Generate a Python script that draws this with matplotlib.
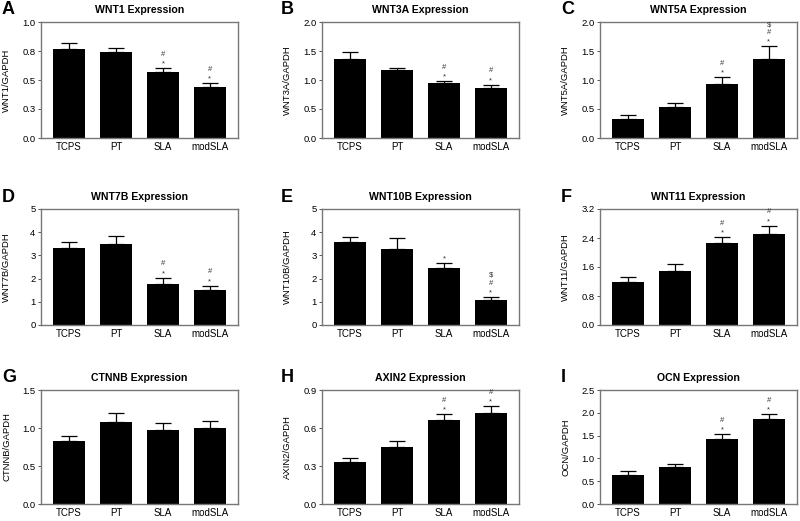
import numpy as np
import matplotlib
matplotlib.use("Agg")
import matplotlib.pyplot as plt

plt.rcParams['font.family'] = ['Liberation Sans', 'DejaVu Sans']

groups = ["TCPS", "PT", "SLA", "modSLA"]

genes = ["WNT1", "WNT3A", "WNT5A", "WNT7B", "WNT10B", "WNT11", "CTNNB", "AXIN2", "OCN"]
letters = ["A", "B", "C", "D", "E", "F", "G", "H", "I"]

wnt1 = [0.77, 0.74, 0.57, 0.44]
wnt1_err = [0.05, 0.04, 0.03, 0.03]
wnt3a = [1.36, 1.17, 0.94, 0.87]
wnt3a_err = [0.13, 0.03, 0.04, 0.05]
wnt5a = [0.32, 0.53, 0.93, 1.37]
wnt5a_err = [0.08, 0.08, 0.115, 0.21]
wnt7b = [3.34, 3.51, 1.77, 1.51]
wnt7b_err = [0.25, 0.32, 0.26, 0.17]
wnt10b = [3.59, 3.27, 2.46, 1.08]
wnt10b_err = [0.20, 0.46, 0.20, 0.12]
wnt11 = [1.20, 1.50, 2.25, 2.50]
wnt11_err = [0.13, 0.19, 0.17, 0.23]
ctnnb = [0.83, 1.08, 0.98, 1.00]
ctnnb_err = [0.06, 0.12, 0.08, 0.09]
axin2 = [0.33, 0.45, 0.66, 0.72]
axin2_err = [0.03, 0.05, 0.05, 0.05]
ocn = [0.64, 0.82, 1.42, 1.87]
ocn_err = [0.09, 0.05, 0.11, 0.10]

values = [wnt1, wnt3a, wnt5a, wnt7b, wnt10b, wnt11, ctnnb, axin2, ocn]
errors = [wnt1_err, wnt3a_err, wnt5a_err, wnt7b_err, wnt10b_err, wnt11_err,
          ctnnb_err, axin2_err, ocn_err]

# significance marks per bar, bottom to top
sig_ab = [[], [], ["*", "#"], ["*", "#"]]
sig_c = [[], [], ["*", "#"], ["*", "#", "$"]]
sig_e = [[], [], ["*"], ["*", "#", "$"]]
signif = [sig_ab, sig_ab, sig_c, sig_ab, sig_e, sig_ab, [[], [], [], []], sig_ab, sig_ab]

yticks = [
    [0, 0.25, 0.5, 0.75, 1.0],
    [0, 0.5, 1.0, 1.5, 2.0],
    [0, 0.5, 1.0, 1.5, 2.0],
    [0, 1, 2, 3, 4, 5],
    [0, 1, 2, 3, 4, 5],
    [0, 0.8, 1.6, 2.4, 3.2],
    [0, 0.5, 1.0, 1.5],
    [0, 0.3, 0.6, 0.9],
    [0, 0.5, 1.0, 1.5, 2.0, 2.5],
]
ytick_labels = [
    ["0.0", "0.3", "0.5", "0.8", "1.0"],
    ["0.0", "0.5", "1.0", "1.5", "2.0"],
    ["0.0", "0.5", "1.0", "1.5", "2.0"],
    ["0", "1", "2", "3", "4", "5"],
    ["0", "1", "2", "3", "4", "5"],
    ["0.0", "0.8", "1.6", "2.4", "3.2"],
    ["0.0", "0.5", "1.0", "1.5"],
    ["0.0", "0.3", "0.6", "0.9"],
    ["0.0", "0.5", "1.0", "1.5", "2.0", "2.5"],
]

W, H = 800, 521
fig = plt.figure(figsize=(W / 100, H / 100), dpi=100)

col_left = [41, 322, 600]
col_w = 197
row_top = [22, 209, 390]
row_h = [116, 116, 114]
letter_x = [2, 281, 561]
letter_y = [9, 197, 378]

x = np.arange(len(groups))
for i in range(9):
    r, c = divmod(i, 3)
    ax = fig.add_axes([col_left[c] / W, 1 - (row_top[r] + row_h[r]) / H,
                       col_w / W, row_h[r] / H])
    vals = values[i]
    errs = errors[i]
    ax.bar(x, vals, width=0.68, color="black", zorder=2)
    ax.errorbar(x, vals, yerr=[np.zeros(len(vals)), errs], fmt="none", ecolor="black",
                elinewidth=0.9, capsize=5.5, capthick=0.9, zorder=1)
    for j, marks in enumerate(signif[i]):
        for k, m in enumerate(marks):
            off = 2.0 + 5.6 * k
            if m == "*":
                off -= 1.5
            ax.annotate(m, (x[j], vals[j] + errs[j]), xytext=(0, off),
                        textcoords="offset points", ha="center", va="bottom",
                        fontsize=5.5, color="#333333")
    ax.set_xlim(-0.6, 3.6)
    ax.set_ylim(yticks[i][0], yticks[i][-1])
    ax.set_yticks(yticks[i])
    ax.set_yticklabels(ytick_labels[i])
    ax.set_xticks(x)
    ax.set_xticklabels(groups)
    ax.tick_params(axis="x", length=0, pad=3, labelsize=7)
    ax.tick_params(axis="y", length=2.5, width=0.7, pad=1.5, labelsize=6.8, color="#555555")
    for sp in ax.spines.values():
        sp.set_color("#777777")
        sp.set_linewidth(1.0)
    ax.set_ylabel(genes[i] + "/GAPDH", fontsize=6.8)
    ax.yaxis.set_label_coords(-0.15, 0.5)
    ax.set_title(genes[i] + " Expression", fontsize=7.6, fontweight="bold", pad=6.5)
    fig.text(letter_x[c] / W, 1 - letter_y[r] / H, letters[i], fontsize=13,
             fontweight="bold", ha="left", va="center")

fig.savefig("out.png", dpi=100)
